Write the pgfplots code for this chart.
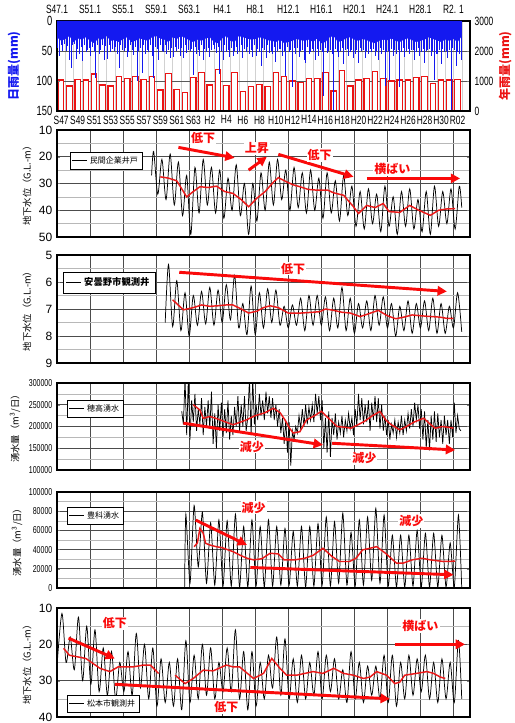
\documentclass[border=0pt]{standalone}
\usepackage{fontspec}
\setmainfont{Liberation Sans}
\newfontfamily\nar[FakeStretch=0.7]{Liberation Sans}
\newfontfamily\jp{Noto Sans CJK JP}
\usepackage{pgfplots}
\pgfplotsset{compat=1.18}
\usetikzlibrary{arrows.meta}

\definecolor{rainblue}{RGB}{20,25,240}
\definecolor{barred}{RGB}{235,20,20}
\definecolor{avgred}{RGB}{235,25,25}
\definecolor{arrred}{RGB}{250,10,10}

\pgfplotsset{
  panel/.style={
    anchor=north west, width=309.75pt, scale only axis,
    xmin=1972, xmax=2022,
    xtick={1972,1976,...,2020}, xticklabels={}, minor x tick num=3,
    major x tick style={draw=none}, minor x tick style={draw=none},
    minor y tick style={draw=none},
    major tick length=2pt,
    grid=both,
    major grid style={black!70, line width=0.55pt},
    minor grid style={black!28, line width=0.3pt},
    axis line style={line width=1pt},
    tick label style={font=\fontsize{9}{9}\selectfont},
    /pgf/number format/assume math mode=true,
    /pgf/number format/fixed,
    /pgf/number format/1000 sep={},
    scaled y ticks=false,
    ylabel style={font=\jp\fontsize{7}{8}\selectfont, anchor=center},
    legend cell align=left,
    legend image code/.code={\draw[black, line width=0.7pt] (0pt,0pt) -- (11pt,0pt);},
    legend style={draw=black, fill=white, inner sep=1.2pt, anchor=north west,
      font=\jp\fontsize{6}{6.5}\selectfont},
  },
  raw/.style={black, line width=0.55pt, no marks},
  avg/.style={avgred, line width=1.1pt, no marks, forget plot},
}
\tikzset{
  trend/.style={arrred, line width=2.2pt, -{Triangle[length=7pt,width=7pt]}},
  tnote/.style={text=arrred, fill=white, inner sep=0.8pt,
    font=\jp\bfseries\fontsize{9}{9}\selectfont},
}

\begin{document}
\begin{tikzpicture}
\path[use as bounding box] (0,0) rectangle (385.5pt,-542.25pt);

% ---- rainfall: yearly (right axis) ----
\begin{axis}[
  at={(42.75pt,-15.75pt)}, anchor=north west,
  width=309.75pt, height=67.5pt, scale only axis,
  xmin=1972, xmax=2022, ymin=0, ymax=3000,
  ytick={0,1000,2000,3000}, ytick pos=right, yticklabel pos=right,
  xtick={1972.5,1974.5,...,2020.5},
  xticklabels={S47,S49,S51,S53,S55,S57,S59,S61,S63,H2,H4,H6,H8,H10,H12,H14,H16,H18,H20,H22,H24,H26,H28,H30,R02},
  xtick pos=bottom, major x tick style={draw=none},
  minor xtick={1973,1974,...,2021}, minor x tick style={draw=none},
  xminorgrids=true, ymajorgrids=true,
  minor grid style={black!18, line width=0.3pt},
  major grid style={black!65, line width=0.5pt},
  axis line style={line width=1pt}, major tick length=2pt,
  xticklabel style={font=\nar\fontsize{9}{9}\selectfont},
  yticklabel style={font=\nar\fontsize{9}{9}\selectfont},
  /pgf/number format/assume math mode=true,
  /pgf/number format/fixed,
  /pgf/number format/1000 sep={}, scaled y ticks=false,
  ylabel={年雨量(mm)},
  ylabel style={at={(axis description cs:1.085,0.5)}, anchor=center,
    text=barred, font=\jp\bfseries\fontsize{9}{9}\selectfont},
]
\addplot[ybar, bar width=0.66, fill=white, draw=barred, line width=0.9pt]
  table[x expr=1972.5+\coordindex, y index=0, header=false, row sep=\\] {
1030\\830\\1050\\1030\\1230\\865\\830\\1140\\1085\\1160\\
1050\\1160\\700\\1250\\720\\620\\1110\\1285\\865\\1385\\
840\\1285\\640\\810\\885\\810\\1275\\1140\\1000\\940\\
1075\\1095\\1285\\665\\1350\\830\\1030\\1075\\1305\\1075\\
1000\\1030\\1030\\1120\\1160\\920\\1030\\1030\\1050\\
};
\end{axis}

% ---- rainfall: daily (left axis, reversed) ----
\begin{axis}[
  at={(42.75pt,-15.75pt)}, anchor=north west,
  width=309.75pt, height=67.5pt, scale only axis,
  xmin=1972, xmax=2022, ymin=0, ymax=150, y dir=reverse,
  ytick={0,50,100,150}, ytick pos=left,
  xtick={1972,1976,...,2020},
  xticklabels={S47.1,S51.1,S55.1,S59.1,S63.1,H4.1,H8.1,H12.1,H16.1,H20.1,H24.1,H28.1,R2. 1},
  xtick pos=top, xticklabel pos=top,
  minor x tick num=3, major tick length=2pt, minor tick length=1.5pt,
  axis line style={line width=1pt},
  xticklabel style={font=\nar\fontsize{9}{9}\selectfont, yshift=2pt},
  yticklabel style={font=\nar\fontsize{10}{10}\selectfont},
  /pgf/number format/assume math mode=true,
  ylabel={日雨量(mm)},
  ylabel style={at={(axis description cs:-0.104,0.5)}, anchor=center,
    text=rainblue, font=\jp\bfseries\fontsize{9}{9}\selectfont},
]
\addplot[fill=rainblue, draw=none]
  table[x expr=1972.0+0.5*\coordindex, y index=0, header=false, row sep=\\] {
27\\33\\30\\25\\35\\29\\31\\27\\33\\37\\29\\31\\25\\33\\32\\35\\30\\27\\35\\33\\
29\\31\\33\\27\\25\\29\\31\\35\\27\\30\\25\\28\\32\\35\\31\\33\\29\\27\\35\\37\\
29\\25\\33\\35\\25\\27\\29\\31\\30\\27\\29\\32\\33\\35\\31\\37\\35\\33\\30\\32\\
33\\31\\35\\29\\37\\35\\27\\25\\35\\33\\29\\27\\31\\33\\30\\32\\35\\37\\33\\31\\
32\\29\\33\\35\\31\\29\\32\\35\\33\\31\\27\\30\\32\\35\\31\\33\\30\\35\\25\\
} \closedcycle;
\addplot[ycomb, draw=rainblue, line width=0.6pt, no marks]
  table[x expr=1972.1+0.2*\coordindex, y index=0, header=false, row sep=\\] {
45\\58\\40\\50\\38\\ 50\\42\\65\\78\\40\\ 38\\64\\46\\55\\43\\ 67\\40\\52\\48\\45\\
59\\43\\50\\95\\40\\ 55\\48\\40\\65\\42\\ 64\\40\\52\\46\\50\\ 43\\55\\78\\40\\48\\
50\\45\\60\\52\\40\\ 48\\56\\43\\100\\50\\ 45\\86\\40\\55\\48\\ 52\\40\\58\\95\\43\\
46\\65\\40\\50\\52\\ 40\\55\\48\\62\\45\\ 60\\43\\50\\46\\58\\ 45\\62\\40\\54\\48\\
50\\46\\90\\43\\55\\ 48\\58\\40\\65\\46\\ 52\\45\\60\\48\\40\\ 46\\54\\43\\88\\50\\
65\\40\\52\\48\\60\\ 45\\58\\50\\43\\55\\ 50\\40\\62\\46\\52\\ 43\\55\\48\\60\\40\\
58\\46\\52\\75\\45\\ 48\\62\\40\\54\\50\\ 55\\43\\68\\50\\46\\ 46\\58\\50\\92\\43\\
52\\48\\110\\45\\55\\ 45\\60\\50\\48\\65\\ 70\\43\\55\\52\\46\\ 50\\65\\46\\58\\48\\
52\\125\\45\\54\\50\\ 48\\55\\148\\46\\52\\ 60\\50\\45\\72\\48\\ 46\\58\\52\\48\\62\\
55\\48\\70\\45\\50\\ 48\\62\\50\\55\\46\\ 52\\46\\58\\50\\65\\ 45\\55\\48\\108\\52\\
50\\98\\46\\58\\48\\ 55\\48\\110\\52\\45\\ 60\\50\\46\\55\\48\\ 48\\65\\52\\45\\58\\
52\\46\\70\\50\\48\\ 46\\58\\50\\98\\55\\ 55\\48\\72\\46\\52\\ 50\\62\\48\\148\\45\\
48\\75\\52\\55\\65\\
};
\end{axis}

% ---- private company well ----
\begin{axis}[panel, at={(42.75pt,-97.5pt)}, height=80.25pt,
  ymin=10, ymax=50, y dir=reverse, ytick={10,20,...,50}, minor y tick num=1,
  ylabel={地下水位（G.L.-m）},
  ylabel style={at={(axis description cs:-0.0726,0.5)}},
  legend style={at={(axis description cs:0.031,0.794)}},
]
\addplot[raw, smooth, tension=0.5] coordinates {
(1983.45,27)(1983.7,18)(1984.2,34)(1984.7,21)(1985.2,36)(1985.7,19)(1986.2,38)(1986.7,22)
(1987.2,42)(1987.7,27)(1988.2,49)(1988.7,24)(1989.2,41)(1989.7,21)(1990.2,38)(1990.7,24)
(1991.2,41)(1991.7,25)(1992.2,43)(1992.7,28)(1993.2,40)(1993.7,23)(1994.2,42)(1994.7,30)
(1995.2,49)(1995.7,30)(1996.2,44)(1996.7,26)(1997.2,40)(1997.7,22)(1998.2,38)(1998.7,21)
(1999.2,36)(1999.7,25)(2000.2,40)(2000.7,24)(2001.2,39)(2001.7,26)(2002.2,41)(2002.7,25)
(2003.2,40)(2003.7,28)(2004.2,43)(2004.7,26)(2005.2,41)(2005.7,29)(2006.2,44)(2006.7,27)
(2007.2,42)(2007.7,31)(2008.2,46)(2008.7,33)(2009.2,47)(2009.7,32)(2010.2,45)(2010.7,34)
(2011.2,48)(2011.7,31)(2012.2,46)(2012.7,35)(2013.2,49)(2013.7,33)(2014.2,46)(2014.7,32)
(2015.2,47)(2015.7,36)(2016.2,48)(2016.7,33)(2017.2,49)(2017.7,31)(2018.2,46)(2018.7,33)
(2019.2,45)(2019.7,32)(2020.2,47)(2020.7,31)(2021.0,39)
};
\addlegendentry{民間企業井戸}
\addplot[avg] coordinates {
(1984.5,27.5)(1985.5,28)(1986.5,29)(1987.7,35)(1988.5,33)(1989.3,31.2)(1990.3,31.5)
(1991.3,31)(1992.3,33)(1993.3,33.7)(1994.3,36)(1995.2,38.7)(1996.2,35.5)(1997.2,33)
(1998.2,29.5)(1998.8,27.8)(1999.8,29.4)(2000.6,30.5)(2001.4,31.2)(2002.4,32.2)(2003.5,32.5)
(2004.8,32.5)(2005.5,33.5)(2006.7,34.4)(2007.9,38.7)(2008.5,41.2)(2009.5,38.2)(2010.5,39)
(2011.5,37.5)(2012.2,40.5)(2013.5,40.8)(2014.7,38.2)(2015.8,40)(2017.2,41.9)(2018.2,40)
(2019.2,39.5)(2020.2,39.4)
};
\draw[trend] (axis cs:1986.7,16.5) -- (axis cs:1993.5,20.4);
\draw[trend] (axis cs:1995.2,25) -- (axis cs:1997.4,20);
\draw[trend] (axis cs:1998.8,19.1) -- (axis cs:2007.9,27.5);
\draw[trend] (axis cs:2009.5,28.1) -- (axis cs:2020.8,28.1);
\node[tnote] at (axis cs:1989.7,13.1) {低下};
\node[tnote] at (axis cs:1996.2,16.9) {上昇};
\node[tnote] at (axis cs:2003.8,19.4) {低下};
\node[tnote] at (axis cs:2012.6,24.6) {横ばい};
\end{axis}

% ---- Azumino observation well ----
\begin{axis}[panel, at={(42.75pt,-191.25pt)}, height=81pt,
  ymin=5, ymax=9, y dir=reverse, ytick={5,6,...,9}, minor y tick num=1,
  ylabel={地下水位（G.L.-m）},
  ylabel style={at={(axis description cs:-0.0726,0.5)}},
  legend style={at={(axis description cs:0.0145,0.843)},
    font=\jp\bfseries\fontsize{7}{8}\selectfont, inner sep=2pt},
]
\addplot[raw, smooth, tension=0.5] coordinates {
(1985.1,7.5)(1985.5,5.35)(1986.0,7.65)(1986.5,5.95)(1987.0,7.8)(1987.5,6.4)(1988.0,8.0)
(1988.5,6.5)(1989.0,7.6)(1989.5,6.35)(1990.0,7.55)(1990.5,6.2)(1991.0,7.6)(1991.5,6.3)
(1992.0,7.5)(1992.5,6.1)(1993.0,7.4)(1993.5,5.75)(1994.0,7.7)(1994.5,6.8)(1995.0,7.95)
(1995.5,6.15)(1996.0,7.95)(1996.5,6.4)(1997.0,7.7)(1997.5,6.25)(1998.0,7.5)(1998.5,6.3)
(1999.0,7.6)(1999.5,6.9)(2000.0,7.7)(2000.5,6.85)(2001.0,7.6)(2001.5,6.6)(2002.0,7.8)
(2002.5,6.5)(2003.0,7.6)(2003.5,6.5)(2004.0,7.6)(2004.5,6.55)(2005.0,7.8)(2005.5,6.6)
(2006.0,7.7)(2006.5,6.2)(2007.0,7.8)(2007.5,6.6)(2008.0,7.9)(2008.5,6.8)(2009.0,7.7)
(2009.5,6.7)(2010.0,7.8)(2010.5,6.5)(2011.0,7.6)(2011.5,6.55)(2012.0,7.7)(2012.5,6.8)
(2013.0,8.0)(2013.5,6.9)(2014.0,7.8)(2014.5,6.7)(2015.0,7.9)(2015.5,6.8)(2016.0,7.7)
(2016.5,6.7)(2017.0,7.8)(2017.5,6.6)(2018.0,7.9)(2018.5,6.8)(2019.0,7.9)(2019.5,6.9)
(2020.0,7.7)(2020.5,6.4)(2021.0,7.85)
};
\addlegendentry{安曇野市観測井}
\addplot[avg] coordinates {
(1986.0,6.66)(1987.3,7.03)(1988.5,6.95)(1989.5,6.85)(1990.5,6.9)(1991.5,6.88)(1992.5,6.85)
(1993.3,6.85)(1994.3,7.0)(1995.2,7.15)(1996.2,7.08)(1997.0,6.95)(1997.8,6.88)(1998.8,6.95)
(2000.0,7.15)(2001.5,7.15)(2003.0,7.12)(2003.8,7.1)(2004.5,7.0)(2005.5,7.05)(2006.5,7.12)
(2007.5,7.15)(2008.7,7.28)(2009.5,7.2)(2010.9,7.05)(2012.0,7.25)(2013.0,7.36)(2014.0,7.3)
(2015.0,7.22)(2016.0,7.25)(2017.3,7.28)(2018.3,7.3)(2019.3,7.35)(2020.0,7.35)
};
\draw[trend] (axis cs:1986.8,5.64) -- (axis cs:2019.2,6.35);
\node[tnote] at (axis cs:2000.6,5.5) {低下};
\end{axis}

% ---- Hotaka spring ----
\begin{axis}[panel, at={(42.75pt,-287.25pt)}, height=65.25pt,
  ymin=100000, ymax=300000, ytick={100000,150000,...,300000}, minor y tick num=1,
  yticklabel style={font=\nar\fontsize{7.5}{8}\selectfont},
  ylabel={湧水量（m\textsuperscript{3}/日）},
  ylabel style={at={(axis description cs:-0.1017,0.5)}},
  legend style={at={(axis description cs:0.024,0.805)}},
]
\addplot[raw] table[x expr=1987.1+0.2*\coordindex, y index=0, header=false, row sep=\\] {
235000\\205000\\310000\\180000\\310000\\ 170000\\260000\\210000\\275000\\190000\\
240000\\205000\\265000\\180000\\245000\\ 200000\\260000\\195000\\280000\\160000\\
230000\\150000\\250000\\190000\\255000\\ 175000\\240000\\185000\\260000\\170000\\
225000\\180000\\245000\\200000\\270000\\ 190000\\250000\\200000\\270000\\190000\\
220000\\310000\\180000\\310000\\205000\\ 250000\\215000\\275000\\225000\\260000\\
215000\\280000\\230000\\270000\\220000\\ 265000\\215000\\250000\\200000\\240000\\
185000\\220000\\160000\\215000\\140000\\ 210000\\110000\\190000\\170000\\200000\\
185000\\225000\\195000\\240000\\200000\\ 250000\\205000\\245000\\215000\\250000\\
210000\\275000\\230000\\270000\\215000\\ 260000\\150000\\220000\\140000\\235000\\
130000\\220000\\180000\\230000\\170000\\ 210000\\185000\\225000\\175000\\215000\\
190000\\230000\\195000\\220000\\180000\\ 240000\\200000\\275000\\215000\\265000\\
205000\\250000\\210000\\260000\\190000\\ 255000\\215000\\270000\\210000\\265000\\
195000\\250000\\190000\\225000\\180000\\ 215000\\170000\\205000\\185000\\215000\\
175000\\210000\\185000\\225000\\180000\\ 215000\\190000\\230000\\195000\\240000\\
200000\\255000\\215000\\250000\\195000\\ 240000\\170000\\235000\\150000\\215000\\
145000\\225000\\170000\\235000\\165000\\ 230000\\175000\\215000\\160000\\225000\\
180000\\215000\\160000\\215000\\175000\\ 255000\\185000\\225000\\195000\\190000\\
};
\addlegendentry{穂高湧水}
\addplot[avg] coordinates {
(1988.5,250000)(1989.3,238000)(1989.7,219000)(1990.5,223000)(1991.2,219000)(1992.2,212000)
(1993.3,204000)(1994.2,210000)(1994.9,215000)(1996.0,225000)(1997.1,231000)(1998.2,242000)
(1999.0,232000)(1999.6,215000)(2000.2,195000)(2000.6,185000)(2001.4,188000)(2002.2,215000)
(2003.2,225000)(2004.0,235000)(2004.6,224000)(2005.9,200000)(2007.0,198000)(2007.6,196000)
(2009.2,211500)(2010.2,225000)(2011.1,234600)(2011.8,215000)(2012.4,205000)(2013.5,192300)
(2014.3,200000)(2015.2,210000)(2016.4,219000)(2017.2,205000)(2017.8,196000)(2018.6,200000)
(2019.5,198000)(2020.0,196000)
};
\draw[trend] (axis cs:1987.3,207700) -- (axis cs:2004.2,157700);
\draw[trend] (axis cs:2005.3,161500) -- (axis cs:2020.2,146000);
\node[tnote] at (axis cs:1995.6,153800) {減少};
\node[tnote] at (axis cs:2009.2,126900) {減少};
\end{axis}

% ---- Toyoshina spring ----
\begin{axis}[panel, at={(42.75pt,-369pt)}, height=72pt,
  ymin=0, ymax=100000, ytick={0,20000,...,100000}, minor y tick num=1,
  yticklabel style={font=\nar\fontsize{7.5}{8}\selectfont},
  ylabel={湧水量（m\textsuperscript{3}/日）},
  ylabel style={at={(axis description cs:-0.097,0.5)}},
  legend style={at={(axis description cs:0.024,0.844)}},
]
\addplot[raw, smooth, tension=0.4] coordinates {
(1987.45,0)(1987.6,77000)(1988.1,5000)(1988.6,86000)(1989.1,22000)(1989.6,79000)(1990.1,5000)
(1990.6,68000)(1991.1,3000)(1991.6,71000)(1992.1,2000)(1992.6,70000)(1993.1,2000)(1993.6,77000)
(1994.1,1000)(1994.6,64000)(1995.1,1000)(1995.6,71000)(1996.1,2000)(1996.6,64000)(1997.1,1000)
(1997.6,71000)(1998.1,2000)(1998.6,64000)(1999.1,3000)(1999.6,62000)(2000.1,3000)(2000.6,59000)
(2001.1,2000)(2001.6,64000)(2002.1,1000)(2002.6,64000)(2003.1,2000)(2003.6,67000)(2004.1,3000)
(2004.6,74000)(2005.1,2000)(2005.6,69000)(2006.1,5000)(2006.6,78000)(2007.1,3000)(2007.6,58000)
(2008.1,2000)(2008.6,71000)(2009.1,3000)(2009.6,74000)(2010.1,8000)(2010.6,83000)(2011.1,5000)
(2011.6,76000)(2012.1,2000)(2012.6,55000)(2013.1,1000)(2013.6,55000)(2014.1,1000)(2014.6,55000)
(2015.1,2000)(2015.6,60000)(2016.1,1000)(2016.6,57000)(2017.1,1000)(2017.6,57000)(2018.1,1000)
(2018.6,55000)(2019.1,1000)(2019.6,47000)(2020.1,1000)(2020.6,76000)(2021.0,0)
};
\addlegendentry{豊科湧水}
\addplot[avg] coordinates {
(1988.6,43000)(1989.0,47000)(1989.3,62000)(1989.7,57000)(1990.0,46500)(1990.5,44800)
(1991.3,43000)(1992.0,42000)(1993.3,37900)(1994.2,34000)(1995.0,31000)(1995.8,29300)
(1996.8,30500)(1997.8,36200)(1998.8,35500)(1999.5,29300)(2000.8,29300)(2002.0,31000)
(2003.0,34000)(2004.2,41400)(2005.3,32800)(2006.2,27600)(2007.4,27600)(2008.2,31000)
(2009.0,39700)(2010.2,42000)(2010.7,43100)(2011.8,36000)(2013.1,25900)(2013.9,25900)
(2015.0,29300)(2016.2,31000)(2017.2,29300)(2018.8,27600)(2020.2,28000)
};
\draw[trend] (axis cs:1988.8,70700) -- (axis cs:1995,44800);
\draw[trend] (axis cs:1995.4,21400) -- (axis cs:2020,13800);
\node[tnote] at (axis cs:1995.8,83800) {減少};
\node[tnote] at (axis cs:2014.9,70000) {減少};
\end{axis}

% ---- Matsumoto observation well ----
\begin{axis}[panel, at={(42.75pt,-456pt)}, height=81.75pt,
  ymin=10, ymax=40, y dir=reverse, ytick={10,20,30,40}, minor y tick num=1,
  ylabel={地下水位（G.L.-m）},
  ylabel style={at={(axis description cs:-0.0726,0.5)}},
  legend style={at={(axis description cs:0.024,0.202)}},
]
\addplot[raw, smooth, tension=0.5] coordinates {
(1972.0,26)(1972.6,11.5)(1973.1,25)(1973.6,18)(1974.1,27)(1974.6,12.5)(1975.1,30)(1975.6,15)
(1976.1,31)(1976.6,16)(1977.1,33)(1977.6,21)(1978.1,34)(1978.6,22)(1979.1,35)(1979.6,25)
(1980.1,33)(1980.6,22)(1981.1,34)(1981.6,17)(1982.1,32)(1982.6,20)(1983.1,35)(1983.6,21)
(1984.1,37)(1984.6,24)(1985.1,36)(1985.6,25)(1986.1,37)(1986.6,24)(1987.1,38)(1987.6,19)
(1988.1,36)(1988.6,23)(1989.1,35)(1989.6,20)(1990.1,34)(1990.6,21)(1991.1,35)(1991.6,25)
(1992.1,33)(1992.6,21)(1993.1,33)(1993.6,16)(1994.1,35)(1994.6,22)(1995.1,38)(1995.6,22)
(1996.1,37)(1996.6,25)(1997.1,35)(1997.6,23)(1998.1,32)(1998.6,18)(1999.1,34)(1999.6,18.5)
(2000.1,35)(2000.6,24)(2001.1,36)(2001.6,23)(2002.1,35)(2002.6,25)(2003.1,34)(2003.6,22)
(2004.1,35)(2004.6,23)(2005.1,33)(2005.6,24)(2006.1,35)(2006.6,27)(2007.1,36)(2007.6,22)
(2008.1,35)(2008.6,25)(2009.1,36)(2009.6,26)(2010.1,34)(2010.6,26)(2011.1,35)(2011.6,23)
(2012.1,36)(2012.6,23)(2013.1,37)(2013.6,25)(2014.1,35)(2014.6,23)(2015.1,34)(2015.6,24)
(2016.1,33)(2016.6,23)(2017.1,35)(2017.6,25)(2018.1,36)(2018.6,24)(2019.1,35)(2019.6,25)
(2020.1,36)(2020.6,19)(2021.0,35)
};
\addlegendentry{松本市観測井}
\addplot[avg] coordinates {
(1972.8,21.1)(1973.5,23)(1975.5,23.9)(1977.2,26.6)(1978.4,27.5)(1979.4,26.2)(1981.2,26.2)
(1982.5,25.7)(1983.3,25.7)(1984.3,28)
};
\addplot[avg] coordinates {
(1986.3,28.5)(1987.5,30.8)(1988.5,29.4)(1989.7,27.1)(1990.9,27.3)(1992.5,25.7)(1993.3,26.2)
(1994.1,26.2)(1995.8,29.4)(1997.0,28)(1998.0,23.9)(1999.0,26.6)(1999.8,28.5)(2001.0,28.5)
(2003.0,27.5)(2004.2,28)(2005.5,26.6)(2006.7,28)(2007.9,28.5)(2009.1,29.4)(2009.9,29)
(2010.7,27.5)(2011.9,28.5)(2012.9,30.8)(2013.5,30.4)(2014.1,28.5)(2015.5,28)(2016.8,27.5)
(2017.6,28)(2018.4,29)(2019.0,29.4)
};
\draw[trend] (axis cs:1973.4,18.3) -- (axis cs:1979,23.9);
\draw[trend] (axis cs:1979,31) -- (axis cs:2012.3,35);
\draw[trend] (axis cs:2012.9,20) -- (axis cs:2021.4,20);
\node[tnote] at (axis cs:1979,14.2) {低下};
\node[tnote] at (axis cs:1992.5,37.2) {低下};
\node[tnote] at (axis cs:2016.0,14.9) {横ばい};
\end{axis}
\end{tikzpicture}
\end{document}
